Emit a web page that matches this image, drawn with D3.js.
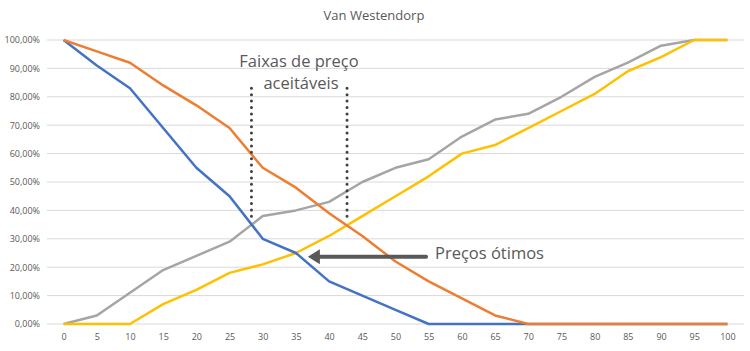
<!DOCTYPE html>
<html>
<head>
<meta charset="utf-8">
<script src="https://cdn.jsdelivr.net/npm/d3@7"></script>
<style>
  body { margin: 0; background: #fff; }
  text { font-family: "Open Sans", sans-serif; }
</style>
</head>
<body>
<script>
// precos (categorias do eixo x)
const precos = ["0","5","10","15","20","25","30","35","40","45","50","55","60","65","70","75","80","85","90","95","100"];

// curvas acumuladas (%)
const muitoBarato = [100, 91, 83, 69, 55, 45, 30, 25, 15, 10, 5, 0, 0, 0, 0, 0, 0, 0, 0, 0, 0];
const barato      = [100, 96, 92, 84, 77, 69, 55, 48, 39, 31, 22, 15, 9, 3, 0, 0, 0, 0, 0, 0, 0];
const caro        = [0, 3, 11, 19, 24, 29, 38, 40, 43, 50, 55, 58, 66, 72, 74, 80, 87, 92, 98, 100, 100];
const muitoCaro   = [0, 0, 0, 7, 12, 18, 21, 25, 31, 38, 45, 52, 60, 63, 69, 75, 81, 89, 94, 100, 100];

const yTicks = [0, 10, 20, 30, 40, 50, 60, 70, 80, 90, 100];

// anotacoes (em unidades do grafico)
const faixas = [28.3, 42.7];
const faixaTopo = 83, faixaBase = 36.5;
const setaDe = 54.6, setaAte = 36.8, setaNivel = 23.7;

function main(){
    const canvasWidth = 750;
    const canvasHeight = 351;
    const margin = {top: 40, right: 6, bottom: 27, left: 47};

    const svg = d3.select("body").append("svg")
        .attr("width", canvasWidth)
        .attr("height", canvasHeight);

    const width = canvasWidth - margin.left - margin.right;
    const height = canvasHeight - margin.top - margin.bottom;

    const ptBR = d3.formatLocale({decimal: ",", thousands: ".", grouping: [3], currency: ["R$", ""]});
    const pct = ptBR.format(".2%");

    //title
    svg.append("text")
        .attr("x", 374)
        .attr("y", 20)
        .attr("text-anchor", "middle")
        .attr("font-size", "13px")
        .attr("fill", "#595959")
        .text("Van Westendorp");

    const g = svg.append("g")
        .attr("transform", `translate(${margin.left},${margin.top})`);

    const xScale = d3.scalePoint().domain(precos).range([0, width]).padding(0.5);
    const yScale = d3.scaleLinear().domain([0, 100]).range([height, 0]);
    // escala continua para anotacoes
    const xNum = d3.scaleLinear().domain([0, 100]).range([xScale("0"), xScale("100")]);

    // gridlines
    g.append("g")
        .selectAll("line")
        .data(yTicks)
        .join("line")
        .attr("x1", 0)
        .attr("x2", width)
        .attr("y1", d => yScale(d))
        .attr("y2", d => yScale(d))
        .attr("stroke", "#d9d9d9")
        .attr("stroke-width", 1);

    // y axis labels
    const yAxis = g.append("g")
        .call(d3.axisLeft(yScale).tickValues(yTicks).tickFormat(d => pct(d / 100)).tickSize(0).tickPadding(7));
    yAxis.select(".domain").remove();
    yAxis.selectAll("text")
        .attr("font-family", "'Open Sans', sans-serif")
        .attr("font-size", "9px")
        .attr("fill", "#595959");

    // x axis labels
    const xAxis = g.append("g")
        .attr("transform", `translate(0,${height})`)
        .call(d3.axisBottom(xScale).tickSize(0).tickPadding(10));
    xAxis.select(".domain").remove();
    xAxis.selectAll("text")
        .attr("font-family", "'Open Sans', sans-serif")
        .attr("font-size", "9px")
        .attr("fill", "#595959");

    const series = [
        {values: caro, color: "#a5a5a5"},
        {values: muitoCaro, color: "#ffc000"},
        {values: muitoBarato, color: "#4472c4"},
        {values: barato, color: "#ed7d31"}
    ];

    const line = d3.line()
        .x((d, i) => xScale(precos[i]))
        .y(d => yScale(d));

    g.selectAll(".serie")
        .data(series)
        .join("path")
        .attr("class", "serie")
        .attr("d", d => line(d.values))
        .attr("fill", "none")
        .attr("stroke", d => d.color)
        .attr("stroke-width", 2.5)
        .attr("stroke-linejoin", "round");

    // dotted lines
    g.selectAll(".faixa")
        .data(faixas)
        .join("line")
        .attr("class", "faixa")
        .attr("x1", d => xNum(d))
        .attr("x2", d => xNum(d))
        .attr("y1", yScale(faixaTopo))
        .attr("y2", yScale(faixaBase))
        .attr("stroke", "#404040")
        .attr("stroke-width", 3)
        .attr("stroke-linecap", "round")
        .attr("stroke-dasharray", "0,6.4");

    // arrow
    const ay = yScale(setaNivel);
    const tip = xNum(setaAte);
    g.append("line")
        .attr("x1", xNum(setaDe))
        .attr("x2", tip + 10)
        .attr("y1", ay)
        .attr("y2", ay)
        .attr("stroke", "#595959")
        .attr("stroke-width", 4)
        .attr("stroke-linecap", "round");
    g.append("path")
        .attr("d", `M${tip},${ay} L${tip + 12},${ay - 7.5} L${tip + 12},${ay + 7.5} Z`)
        .attr("fill", "#595959");

    // annotation text
    svg.append("text")
        .attr("x", 299)
        .attr("y", 67)
        .attr("text-anchor", "middle")
        .attr("font-size", "16.5px")
        .attr("fill", "#595959")
        .text("Faixas de preço");
    svg.append("text")
        .attr("x", 301)
        .attr("y", 89)
        .attr("text-anchor", "middle")
        .attr("font-size", "16.5px")
        .attr("fill", "#595959")
        .text("aceitáveis");
    svg.append("text")
        .attr("x", 435)
        .attr("y", 259)
        .attr("font-size", "16.5px")
        .attr("fill", "#595959")
        .text("Preços ótimos");
}
main();
</script>
</body>
</html>
